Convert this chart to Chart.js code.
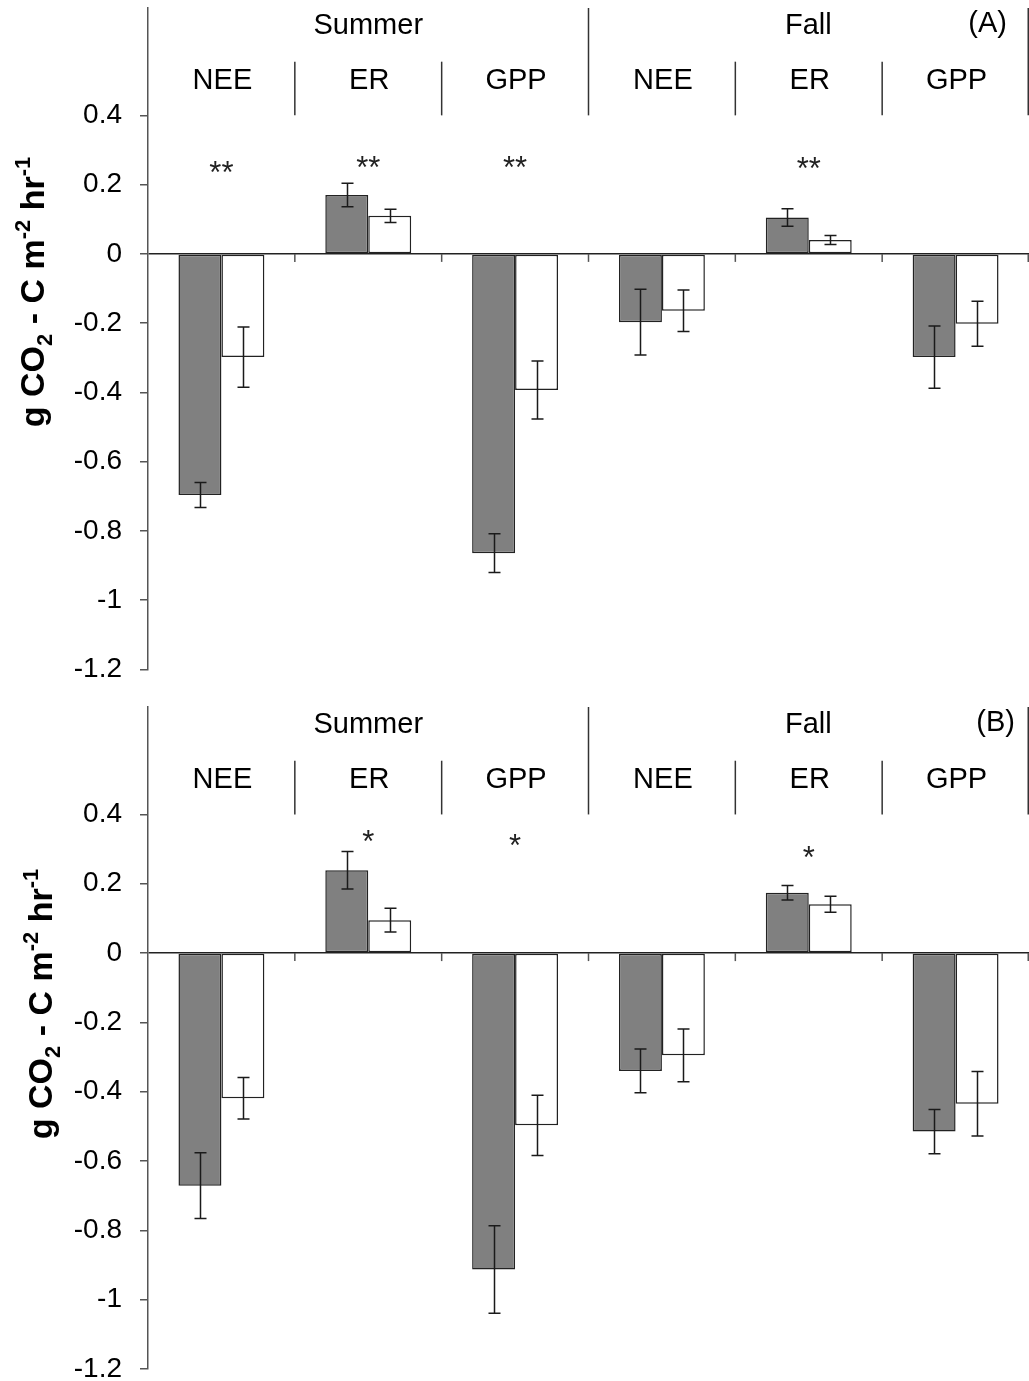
<!DOCTYPE html>
<html><head><meta charset="utf-8">
<script src="https://cdn.jsdelivr.net/npm/chart.js@4.4.1/dist/chart.umd.min.js"></script>
<style>
html,body{margin:0;padding:0;background:#fff;}
#wrap{position:relative;width:1029px;height:1381px;background:#fff;}
canvas{position:absolute;left:0;}
</style></head><body>
<div id="wrap">
<canvas id="cA" width="1029" height="690" style="top:0px"></canvas>
<canvas id="cB" width="1029" height="691" style="top:690px"></canvas>
</div>
<script>
// ---------- data ----------
const categories = ['NEE', 'ER', 'GPP', 'NEE', 'ER', 'GPP'];
const seasons = ['Summer', 'Fall'];
const panelLabels = ['(A)', '(B)'];
const yMin = -1.2, yMax = 0.71, yStep = 0.2, yTickTop = 0.4;

// Panel A
const aDark      = [-0.696, 0.170, -0.864, -0.197, 0.105, -0.298];
const aDarkErr   = [ 0.036, 0.034,  0.056,  0.095, 0.025,  0.090];
const aWhite     = [-0.298, 0.110, -0.393, -0.164, 0.040, -0.202];
const aWhiteErr  = [ 0.087, 0.019,  0.084,  0.060, 0.013,  0.065];
const aSig       = ['**', '**', '**', '', '**', ''];
const aSigLevel  = [0.245, 0.259, 0.259, null, 0.256, null];

// Panel B
const bDark      = [-0.671, 0.239, -0.913, -0.340, 0.174, -0.515];
const bDarkErr   = [ 0.095, 0.054,  0.126,  0.063, 0.021,  0.064];
const bWhite     = [-0.419, 0.095, -0.497, -0.295, 0.141, -0.435];
const bWhiteErr  = [ 0.060, 0.034,  0.087,  0.076, 0.023,  0.093];
const bSig       = ['', '*', '*', '', '*', ''];
const bSigLevel  = [null, 0.333, 0.321, null, 0.287, null];

// ---------- styles ----------
const FONT = "'Liberation Sans', Arial, Helvetica, sans-serif";
const DARK_FILL = '#808080';
const EDGE = '#222222';
const AXIS = '#555555';

function fmt(v) { const r = Math.round(v * 10) / 10; return String(r === 0 ? 0 : r); }

function decoPlugin(p) {
  return {
    id: 'deco' + p.label,
    afterDatasetsDraw(chart) {
      const ctx = chart.ctx, xs = chart.scales.x, ys = chart.scales.y, area = chart.chartArea;
      const step = xs.getPixelForValue(1) - xs.getPixelForValue(0);
      const boundary = i => (i >= categories.length ? area.right - 0.75 : xs.getPixelForValue(i) - step / 2);
      ctx.save();
      // error bars
      ctx.strokeStyle = '#1a1a1a';
      ctx.lineWidth = 1.5;
      chart.data.datasets.forEach((ds, di) => {
        const meta = chart.getDatasetMeta(di);
        meta.data.forEach((bar, i) => {
          const v = ds.data[i], e = ds.err[i];
          const x = Math.round(bar.x) + 0.5;
          const y1 = ys.getPixelForValue(v + e), y2 = ys.getPixelForValue(v - e);
          ctx.beginPath();
          ctx.moveTo(x, y1); ctx.lineTo(x, y2);
          ctx.moveTo(x - 6, y1); ctx.lineTo(x + 6, y1);
          ctx.moveTo(x - 6, y2); ctx.lineTo(x + 6, y2);
          ctx.stroke();
        });
      });
      // zero-line ticks at group boundaries
      const y0 = ys.getPixelForValue(0);
      ctx.strokeStyle = AXIS;
      ctx.lineWidth = 1.5;
      for (let i = 1; i <= categories.length; i++) {
        const x = boundary(i);
        ctx.beginPath(); ctx.moveTo(x, y0); ctx.lineTo(x, y0 + 8); ctx.stroke();
      }
      // header dividers
      const yTop4 = ys.getPixelForValue(yTickTop);
      const ySub = ys.getPixelForValue(0.555);
      ctx.strokeStyle = '#333333';
      [1, 2, 4, 5].forEach(i => {
        const x = boundary(i);
        ctx.beginPath(); ctx.moveTo(x, ySub); ctx.lineTo(x, yTop4); ctx.stroke();
      });
      [3, 6].forEach(i => {
        const x = boundary(i);
        ctx.beginPath(); ctx.moveTo(x, area.top); ctx.lineTo(x, yTop4); ctx.stroke();
      });
      // header texts
      ctx.fillStyle = '#000';
      ctx.font = '29px ' + FONT;
      ctx.textAlign = 'center';
      ctx.textBaseline = 'alphabetic';
      categories.forEach((c, i) => {
        ctx.fillText(c, xs.getPixelForValue(i) + 1, ys.getPixelForValue(0.506) + 10);
      });
      seasons.forEach((s, k) => {
        const x = (boundary(k * 3) + boundary(k * 3 + 3)) / 2;
        ctx.fillText(s, x, ys.getPixelForValue(0.664) + 10);
      });
      ctx.textAlign = 'right';
      ctx.fillText(p.label, area.right - p.labelInset, ys.getPixelForValue(0.670) + 10);
      // significance stars
      ctx.textAlign = 'center';
      ctx.font = '31px ' + FONT;
      ctx.fillStyle = '#222';
      p.sig.forEach((s, i) => {
        if (!s) return;
        ctx.fillText(s, xs.getPixelForValue(i), ys.getPixelForValue(p.sigLevel[i]) + 14);
      });
      // y-axis title with sub/superscripts
      const big = 'bold 34px ' + FONT, small = 'bold 22px ' + FONT;
      const parts = [
        ['g CO', big, 0], ['2', small, 8], [' - C m', big, 0], ['-2', small, -14],
        [' hr', big, 0], ['-1', small, -14]
      ];
      let total = 0;
      parts.forEach(pt => { ctx.font = pt[1]; total += ctx.measureText(pt[0]).width; });
      ctx.translate(p.titleX, p.titleY);
      ctx.rotate(-Math.PI / 2);
      ctx.textAlign = 'left';
      ctx.fillStyle = '#000';
      let cx = -total / 2;
      parts.forEach(pt => {
        ctx.font = pt[1];
        ctx.fillText(pt[0], cx, pt[2]);
        cx += ctx.measureText(pt[0]).width;
      });
      ctx.restore();
    }
  };
}

function makePanel(canvasId, dark, darkErr, white, whiteErr, sig, sigLevel, label, pad, titleX, titleY, labelInset) {
  return new Chart(document.getElementById(canvasId), {
    type: 'bar',
    data: {
      labels: categories,
      datasets: [
        { data: dark, err: darkErr, backgroundColor: DARK_FILL, borderColor: EDGE, borderWidth: 1.5, borderSkipped: false,
          categoryPercentage: 0.585, barPercentage: 1.0 },
        { data: white, err: whiteErr, backgroundColor: '#ffffff', borderColor: EDGE, borderWidth: 1.5, borderSkipped: false,
          categoryPercentage: 0.585, barPercentage: 1.0 }
      ]
    },
    options: {
      responsive: false,
      animation: false,
      devicePixelRatio: 1,
      layout: { padding: pad },
      plugins: { legend: { display: false }, tooltip: { enabled: false }, title: { display: false } },
      scales: {
        x: { display: false, offset: true },
        y: {
          min: yMin, max: yMax,
          ticks: {
            stepSize: yStep, color: '#000', padding: 18,
            font: { family: FONT, size: 28 },
            callback: v => fmt(v)
          },
          afterBuildTicks: s => { s.ticks = s.ticks.filter(t => t.value <= yTickTop + 1e-6 && t.value >= yMin - 1e-6); },
          afterFit: s => { s.width = 148; s.paddingTop = 0; s.paddingBottom = 0; },
          grid: {
            drawOnChartArea: true, drawTicks: true, tickLength: 8,
            color: c => (c.tick && Math.abs(c.tick.value) < 1e-6 ? '#222' : 'rgba(0,0,0,0)'),
            lineWidth: 1.5, tickColor: AXIS, tickWidth: 1.5
          },
          border: { display: true, color: AXIS, width: 1.5 }
        }
      }
    },
    plugins: [decoPlugin({ label, sig, sigLevel, titleX, titleY, labelInset })]
  });
}

makePanel('cA', aDark, aDarkErr, aWhite, aWhiteErr, aSig, aSigLevel, panelLabels[0],
  { top: 8, bottom: 20.5, left: 0, right: 0 }, 44, 292, 22);
makePanel('cB', bDark, bDarkErr, bWhite, bWhiteErr, bSig, bSigLevel, panelLabels[1],
  { top: 17, bottom: 12, left: 0, right: 0 }, 52, 314, 14);
</script>
</body></html>
